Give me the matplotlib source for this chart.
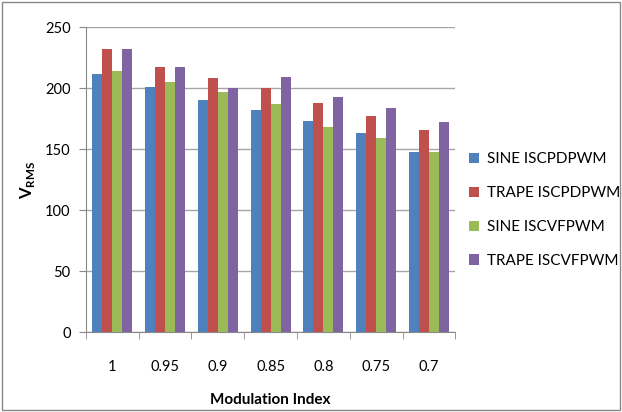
import numpy as np
import matplotlib
matplotlib.use("Agg")
import matplotlib.pyplot as plt
from matplotlib.patches import Rectangle
from matplotlib.ticker import FixedLocator

plt.rcParams["font.family"] = ["Lato", "DejaVu Sans"]

mod_index = ["1", "0.95", "0.9", "0.85", "0.8", "0.75", "0.7"]
sine_pd = [212, 201, 190, 182, 173, 163, 148]
trape_pd = [232, 217, 208, 200, 188, 177, 166]
sine_vf = [214, 205, 197, 187, 168, 159, 148]
trape_vf = [232, 217, 200, 209, 193, 184, 172]

series = [
    ("SINE ISCPDPWM", sine_pd, "#4F81BD"),
    ("TRAPE ISCPDPWM", trape_pd, "#C0504D"),
    ("SINE ISCVFPWM", sine_vf, "#9BBB59"),
    ("TRAPE ISCVFPWM", trape_vf, "#8064A2"),
]

fig = plt.figure(figsize=(6.22, 4.12), dpi=100)
ax = fig.add_axes([0.138, 0.194, 0.594, 0.74])

x = np.arange(len(mod_index))
width = 0.19
for i, (name, vals, color) in enumerate(series):
    ax.bar(x + (i - 1.5) * width, vals, width, color=color, label=name, zorder=3)

ax.set_xlim(-0.5, len(mod_index) - 0.5)
ax.set_ylim(0, 250)
ax.set_yticks(range(0, 251, 50))
ax.yaxis.grid(True, color="#A6A6A6", linewidth=1, zorder=0)
ax.set_xticks(x)
ax.set_xticklabels(mod_index, fontsize=10.5)
ax.tick_params(axis="x", which="major", length=0, pad=20)
ax.xaxis.set_minor_locator(FixedLocator(np.arange(-0.5, len(mod_index), 1)))
ax.tick_params(axis="x", which="minor", length=5, color="#888888")
ax.tick_params(axis="y", labelsize=10.5, length=5, color="#888888", pad=6)

for side in ("top", "right"):
    ax.spines[side].set_visible(False)
for side in ("left", "bottom"):
    ax.spines[side].set_color("#888888")

ax.set_xlabel("Modulation Index", fontsize=11, fontweight="bold", labelpad=14)
ax.set_ylabel(r"V$_{\mathregular{RMS}}$", fontsize=12, fontweight="bold", labelpad=6)

ax.legend(loc="center left", bbox_to_anchor=(1.0, 0.40), frameon=False,
          fontsize=11, labelspacing=1.3, handlelength=0.65, handleheight=0.65,
          handletextpad=0.5)

# outer chart border
fig.patches.append(Rectangle((0.004, 0.005), 0.992, 0.99, transform=fig.transFigure,
                             fill=False, edgecolor="#888888", linewidth=1))

fig.savefig("out.png", dpi=100)
